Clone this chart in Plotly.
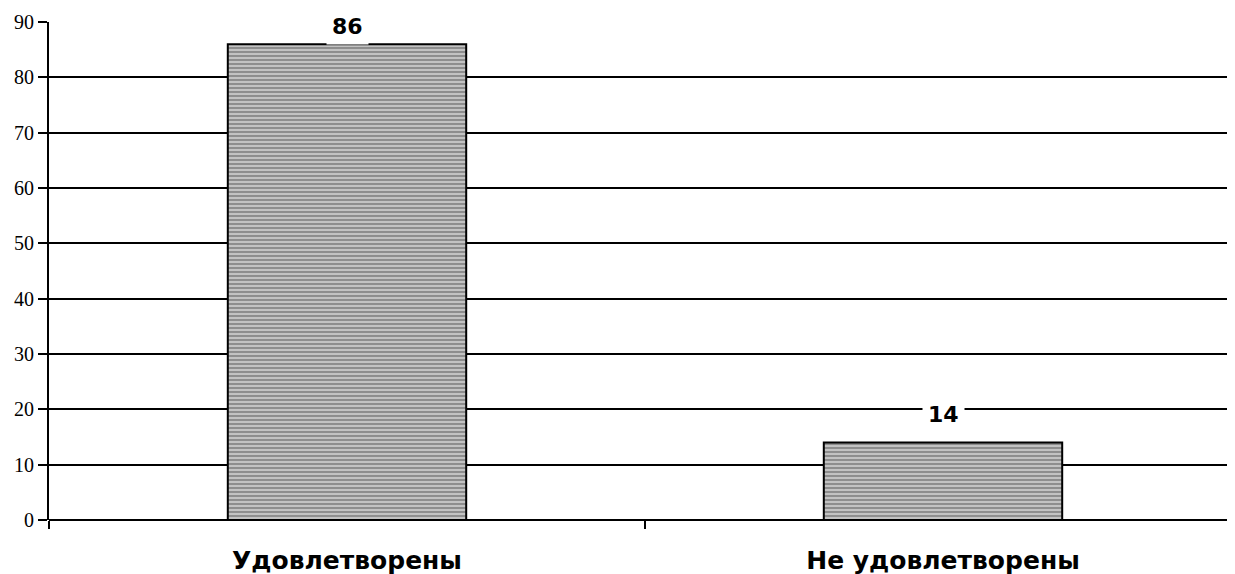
import plotly.graph_objects as go

categories = ["Удовлетворены", "Не удовлетворены"]
values = [86, 14]
y_ticks = [0, 10, 20, 30, 40, 50, 60, 70, 80, 90]

# page body adds an 8px offset; compensate in size/margins
W, H = 1235, 566
M_L, M_T, M_B = 41, 14, 54
y_max = 90
plot_h = H - M_T - M_B
ppu = plot_h / y_max
cat_px = 596
x_end = -0.5 + (W - M_L) / cat_px

fig = go.Figure()
fig.add_trace(go.Bar(
    x=categories, y=values, width=0.4,
    marker=dict(color="#bbbbbb", line=dict(color="black", width=2),
                pattern=dict(shape="-", fgcolor="#111111", bgcolor="#c2c2c2",
                             size=4, solidity=0.3)),
    hoverinfo="skip",
))
for c, v in zip(categories, values):
    shift = min(28, (y_max - v) * ppu - 5)
    fig.add_annotation(x=c, y=v, text=f"<b>{v}</b>", showarrow=False,
                       yanchor="middle", yshift=shift, bgcolor="white",
                       borderpad=5,
                       font=dict(family="DejaVu Sans", size=22, color="black"))

fig.update_layout(
    width=W, height=H,
    margin=dict(l=M_L, r=0, t=M_T, b=M_B, autoexpand=False),
    plot_bgcolor="white", paper_bgcolor="white",
    showlegend=False,
    xaxis=dict(range=[-0.5, x_end], showgrid=False, ticks="", ticklen=0,
               ticklabelstandoff=23,
               tickfont=dict(family="DejaVu Sans", size=25, color="black"),
               tickprefix="<b>", ticksuffix="</b>",
               minor=dict(tickvals=[-0.5, 0.5], ticks="outside", ticklen=8,
                          tickwidth=2, tickcolor="black", showgrid=False),
               showline=False, zeroline=False, automargin=False),
    yaxis=dict(range=[0, y_max], tickvals=y_ticks, showgrid=True, gridcolor="black",
               gridwidth=2, zeroline=True, zerolinecolor="black", zerolinewidth=2,
               showline=True, linecolor="black", linewidth=2,
               ticks="outside", ticklen=9, tickwidth=2, tickcolor="black",
               automargin=False,
               tickfont=dict(family="Liberation Serif", size=20, color="black")),
)
fig.write_html("out.html")
